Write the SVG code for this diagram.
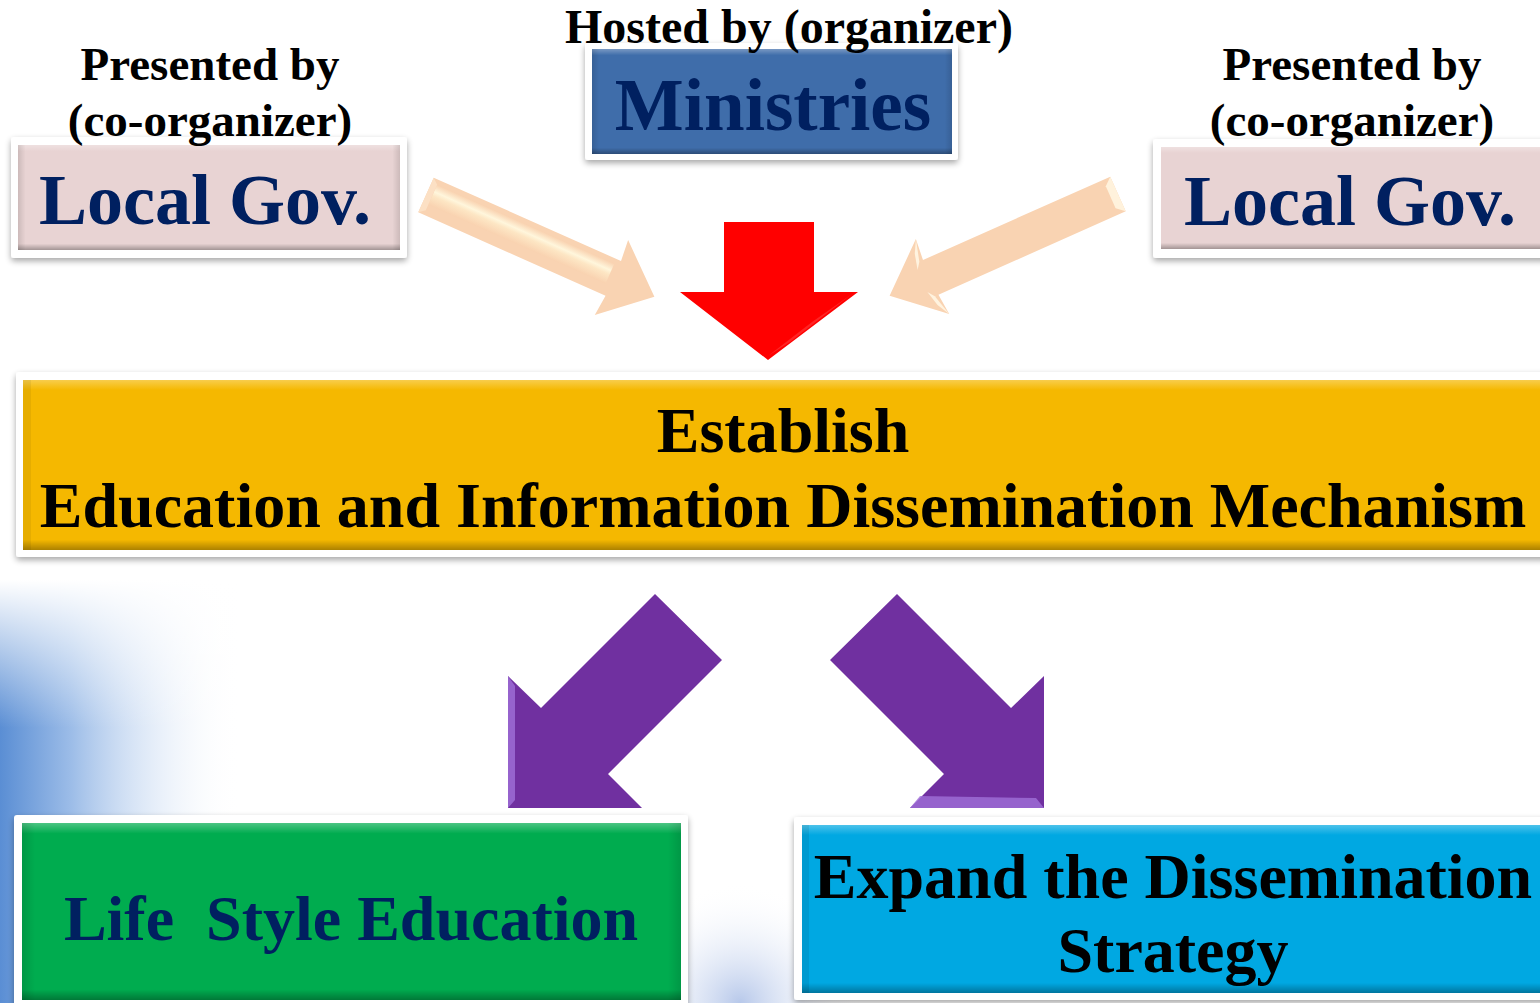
<svg xmlns="http://www.w3.org/2000/svg" width="1540" height="1003" viewBox="0 0 1540 1003">
<defs>
<style>
.t{font-family:"Liberation Serif","Times New Roman",serif;font-weight:bold;text-anchor:middle}
.navy{fill:#002060}
.blk{fill:#000}
.frame{fill:#fff;filter:url(#sh)}
.bev{fill:url(#bevV)}
.bevh{fill:url(#bevH)}
</style>
<filter id="sh" x="-5%" y="-10%" width="110%" height="125%">
<feGaussianBlur in="SourceAlpha" stdDeviation="3"/>
<feOffset dx="0" dy="3" result="b"/>
<feComponentTransfer><feFuncA type="linear" slope="0.35"/></feComponentTransfer>
<feMerge><feMergeNode/><feMergeNode in="SourceGraphic"/></feMerge>
</filter>
<linearGradient id="bevV" x1="0" y1="0" x2="0" y2="1">
<stop offset="0" stop-color="#fff" stop-opacity="0.3"/>
<stop offset="0.06" stop-color="#fff" stop-opacity="0"/>
<stop offset="0.94" stop-color="#000" stop-opacity="0"/>
<stop offset="1" stop-color="#000" stop-opacity="0.3"/>
</linearGradient>
<linearGradient id="bevH" x1="0" y1="0" x2="1" y2="0">
<stop offset="0" stop-color="#000" stop-opacity="0.12"/>
<stop offset="0.02" stop-color="#000" stop-opacity="0"/>
<stop offset="0.98" stop-color="#000" stop-opacity="0"/>
<stop offset="1" stop-color="#000" stop-opacity="0.12"/>
</linearGradient>
<linearGradient id="skyH" x1="0" y1="0" x2="1" y2="0">
<stop offset="0" stop-color="#5a8ed4"/>
<stop offset="0.3" stop-color="#9dbde8"/>
<stop offset="1" stop-color="#ffffff" stop-opacity="0"/>
</linearGradient>
<linearGradient id="skyV" x1="0" y1="0" x2="0" y2="1">
<stop offset="0" stop-color="#fff" stop-opacity="1"/>
<stop offset="0.35" stop-color="#fff" stop-opacity="0"/>
<stop offset="1" stop-color="#fff" stop-opacity="0"/>
</linearGradient>
<radialGradient id="sky2" cx="740" cy="1003" r="120" gradientUnits="userSpaceOnUse">
<stop offset="0" stop-color="#b7c8ea"/>
<stop offset="1" stop-color="#ffffff" stop-opacity="0"/>
</radialGradient>
<linearGradient id="peachHi" x1="0" y1="0" x2="0" y2="1">
<stop offset="0" stop-color="#f9d2b0"/>
<stop offset="0.35" stop-color="#fff6dc"/>
<stop offset="0.55" stop-color="#fde6c4"/>
<stop offset="1" stop-color="#f9d2b0"/>
</linearGradient>
</defs>
<rect width="1540" height="1003" fill="#fff"/>
<rect x="0" y="580" width="240" height="423" fill="url(#skyH)"/>
<rect x="0" y="580" width="240" height="423" fill="url(#skyV)"/>
<rect x="620" y="880" width="240" height="123" fill="url(#sky2)"/>

<g id="node-localgov-left">
<rect class="frame" x="11" y="137" width="396" height="121" rx="3"/>
<rect x="18" y="145" width="382" height="105" fill="#e8d3d3"/>
<rect class="bev" x="18" y="145" width="382" height="105"/>
<rect class="bevh" x="18" y="145" width="382" height="105"/>
<text class="t navy" x="205" y="224" font-size="72">Local Gov.</text>
<text class="t blk" x="210" y="80" font-size="47">Presented by</text>
<text class="t blk" x="210" y="136" font-size="47">(co-organizer)</text>
</g>

<g id="node-ministries">
<rect class="frame" x="585" y="43" width="373" height="117" rx="3"/>
<rect x="592" y="49" width="360" height="105" fill="#3f6daa"/>
<rect class="bev" x="592" y="49" width="360" height="105"/>
<rect class="bevh" x="592" y="49" width="360" height="105"/>
<text class="t navy" x="773" y="130" font-size="73">Ministries</text>
<text class="t blk" x="789" y="43" font-size="48">Hosted by (organizer)</text>
</g>

<g id="node-localgov-right">
<rect class="frame" x="1153" y="139" width="400" height="119" rx="3"/>
<rect x="1161" y="147" width="390" height="102" fill="#e8d3d3"/>
<rect class="bev" x="1161" y="147" width="390" height="102"/>
<text class="t navy" x="1350" y="225" font-size="72">Local Gov.</text>
<text class="t blk" x="1352" y="80" font-size="47">Presented by</text>
<text class="t blk" x="1352" y="136" font-size="47">(co-organizer)</text>
</g>

<g id="node-establish">
<rect class="frame" x="16" y="372" width="1540" height="185" rx="3"/>
<rect x="23" y="380" width="1530" height="170" fill="#f5b800"/>
<rect class="bev" x="23" y="380" width="1530" height="170"/>
<rect x="23" y="380" width="8" height="170" fill="#000" opacity="0.06"/>
<text class="t blk" x="783" y="452" font-size="64">Establish</text>
<text class="t blk" x="783" y="527" font-size="64">Education and Information Dissemination Mechanism</text>
</g>

<g id="node-lifestyle">
<rect class="frame" x="14" y="815" width="674" height="200" rx="3"/>
<rect x="22" y="823" width="659" height="177" fill="#00ac4f"/>
<rect class="bev" x="22" y="823" width="659" height="177"/>
<rect class="bevh" x="22" y="823" width="659" height="177"/>
<text class="t navy" x="351" y="940" font-size="64" style="white-space:pre">Life  Style Education</text>
</g>

<g id="node-expand">
<rect class="frame" x="794" y="817" width="760" height="183" rx="3"/>
<rect x="802" y="825" width="750" height="168" fill="#00a8e2"/>
<rect class="bev" x="802" y="825" width="750" height="168"/>
<rect x="802" y="825" width="7" height="168" fill="#000" opacity="0.08"/>
<text class="t blk" x="1173" y="898" font-size="64">Expand the Dissemination</text>
<text class="t blk" x="1173" y="972" font-size="64">Strategy</text>
</g>

<g id="connectors">
<g transform="translate(426,195) rotate(24)">
<polygon points="0,-19 205,-19 203,-41 250,0 203,41 205,19 0,19" fill="#f9d3b2"/>
<polygon points="6,-14 200,-14 200,8 6,8" fill="url(#peachHi)"/>
<polygon points="0,-19 6,-14 6,14 0,19" fill="#fce0c4"/>
</g>
<g transform="translate(1118,194) rotate(156)">
<polygon points="0,-19 205,-19 203,-41 250,0 203,41 205,19 0,19" fill="#f9d3b2"/>
<polygon points="0,-19 8,-12 8,12 0,19" fill="#fff2dc"/>
<polygon points="203,-41 210,-28 214,-12 209,-19" fill="#fff3df"/>
<polygon points="203,41 210,28 214,12 209,19" fill="#fff3df"/>
</g>
<polygon points="724,222 814,222 814,292 858,292 768,360 680,292 724,292" fill="#ff0000"/>
<polygon points="768,356 812,322 852,294 790,342" fill="#ff4848" opacity="0.5"/>
<polygon points="655,594 722,660 608,774 642,808 508,808 508,676 541,708" fill="#7030a0"/>
<polygon points="508,676 515,686 515,800 508,808" fill="#a070d8" opacity="0.8"/>
<polygon points="897,594 830,660 944,774 910,808 1044,808 1044,676 1011,708" fill="#7030a0"/>
<polygon points="910,808 920,796 1036,798 1044,808" fill="#a070d8" opacity="0.8"/>
</g>
</svg>
